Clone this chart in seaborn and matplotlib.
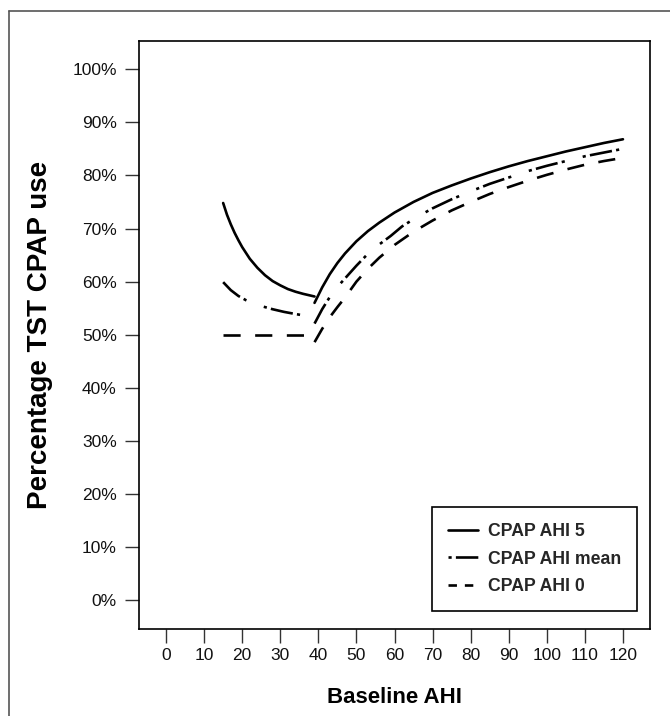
import matplotlib
matplotlib.use("Agg")
import matplotlib.pyplot as plt
from matplotlib.lines import Line2D
import seaborn as sns
import pandas as pd

# ---- data ----
series_names = ["CPAP AHI 5", "CPAP AHI mean", "CPAP AHI 0"]

ahi5_low_x = [15, 16, 17, 18, 19, 20, 22, 24, 26, 28, 30, 32, 34, 36, 39]
ahi5_low_y = [74.8, 72.6, 70.8, 69.2, 67.8, 66.5, 64.3, 62.6, 61.2, 60.1, 59.3, 58.6, 58.1, 57.7, 57.2]
ahi5_high_x = [39, 41, 43, 45, 47, 50, 53, 56, 60, 65, 70, 75, 80, 85, 90, 95, 100, 105, 110, 115, 120]
ahi5_high_y = [56.0, 58.9, 61.4, 63.5, 65.3, 67.6, 69.5, 71.1, 73.0, 75.0, 76.7, 78.1, 79.4, 80.6,
               81.7, 82.7, 83.6, 84.5, 85.3, 86.1, 86.8]

mean_low_x = [15, 17, 19, 21, 23, 25, 28, 31, 34, 38]
mean_low_y = [59.9, 58.4, 57.3, 56.5, 55.9, 55.4, 54.8, 54.3, 53.9, 53.4]
mean_high_x = [39, 41, 43, 45, 47, 50, 53.5, 56, 59, 62, 66, 70, 75, 80, 85, 90, 95, 100, 105, 110, 115, 120]
mean_high_y = [52.1, 54.8, 57.1, 59.0, 60.6, 63.0, 65.6, 67.0, 68.6, 70.4, 72.2, 73.8, 75.5, 77.0,
               78.4, 79.6, 80.8, 81.8, 82.7, 83.6, 84.3, 85.0]

ahi0_low_x = [15, 38]
ahi0_low_y = [50.0, 50.0]
ahi0_high_x = [39, 41, 43, 45, 47, 50, 53, 56, 60, 65, 70, 75, 80, 85, 90, 95, 100, 105, 110, 115, 120]
ahi0_high_y = [48.6, 51.1, 53.3, 55.2, 57.0, 60.0, 62.4, 64.5, 66.9, 69.4, 71.5, 73.4, 75.0, 76.5,
               77.8, 79.0, 80.1, 81.1, 82.0, 82.7, 83.3]

x_ticks = list(range(0, 121, 10))
y_ticks = list(range(0, 101, 10))
y_tick_labels = [f"{v}%" for v in y_ticks]

# ---- build long-form table ----
rows = []
segs = [
    (series_names[0], "low", ahi5_low_x, ahi5_low_y),
    (series_names[0], "high", ahi5_high_x, ahi5_high_y),
    (series_names[1], "low", mean_low_x, mean_low_y),
    (series_names[1], "high", mean_high_x, mean_high_y),
    (series_names[2], "low", ahi0_low_x, ahi0_low_y),
    (series_names[2], "high", ahi0_high_x, ahi0_high_y),
]
for name, seg, xs, ys in segs:
    for xv, yv in zip(xs, ys):
        rows.append({"series": name, "seg": f"{name}-{seg}", "x": xv, "y": yv})
df = pd.DataFrame(rows)

sns.set_theme(style="white")
plt.rcParams["font.family"] = ["Liberation Sans", "DejaVu Sans"]

fig = plt.figure(figsize=(6.7, 7.16), dpi=100)
ax = fig.add_axes([139/670, 1-629/716, 511/670, 588/716])

dash_map = {
    series_names[0]: "",
    series_names[1]: (8.5, 1.6, 1.2, 7.0, 1.2, 1.6),
    series_names[2]: (6.5, 5.5),
}
sns.lineplot(data=df, x="x", y="y", hue="series", style="series", units="seg",
             estimator=None, sort=False, palette=["black"]*3, dashes=dash_map,
             linewidth=1.9, ax=ax, legend=True)

ax.set_xlim(-7.1, 127.1)
ax.set_ylim(-5.4, 105.3)
ax.set_xticks(x_ticks)
ax.set_yticks(y_ticks)
ax.set_yticklabels(y_tick_labels)
ax.tick_params(axis="both", which="both", length=10, width=1.0, color="#333333",
               labelsize=12.5, labelcolor="#111111", direction="out")
ax.tick_params(axis="y", pad=6)
ax.tick_params(axis="x", pad=4)
ax.tick_params(left=True, bottom=True)
for s in ax.spines.values():
    s.set_color("black")
    s.set_linewidth(1.2)
    s.set_visible(True)

ax.set_xlabel("Baseline AHI", fontsize=16, fontweight="bold", color="black")
ax.set_ylabel("Percentage TST CPAP use", fontsize=20, fontweight="bold", color="black")
ax.xaxis.set_label_coords(0.5, -0.098)
ax.yaxis.set_label_coords(-0.168, 0.5)

legend_dashes = {
    series_names[0]: "",
    series_names[1]: (1.2, 1.6, 8.5, 1.6, 1.2, 7.0),
    series_names[2]: (3.2, 3.0),
}
new_handles = []
for n in series_names:
    d = legend_dashes[n]
    h = Line2D([0], [0], color="black", linewidth=1.9)
    if d:
        h.set_dashes(d)
    new_handles.append(h)
leg = ax.legend(new_handles, series_names, loc="lower right",
                bbox_to_anchor=(637/670, 1-611/716), bbox_transform=fig.transFigure,
                frameon=True, fancybox=False, edgecolor="black", framealpha=1,
                prop={"weight": "bold", "size": 12.7}, handlelength=1.7,
                handletextpad=0.57, labelspacing=0.6, borderpad=0.9,
                borderaxespad=0)
leg.get_frame().set_linewidth(1.2)

# outer frame (left and top edges visible)
fig.add_artist(Line2D([8.5/670, 8.5/670], [0, 1-11/716], transform=fig.transFigure,
                      color="#555555", linewidth=1.2))
fig.add_artist(Line2D([8.5/670, 1], [1-11/716, 1-11/716], transform=fig.transFigure,
                      color="#555555", linewidth=1.2))

fig.savefig("out.png", dpi=100)
